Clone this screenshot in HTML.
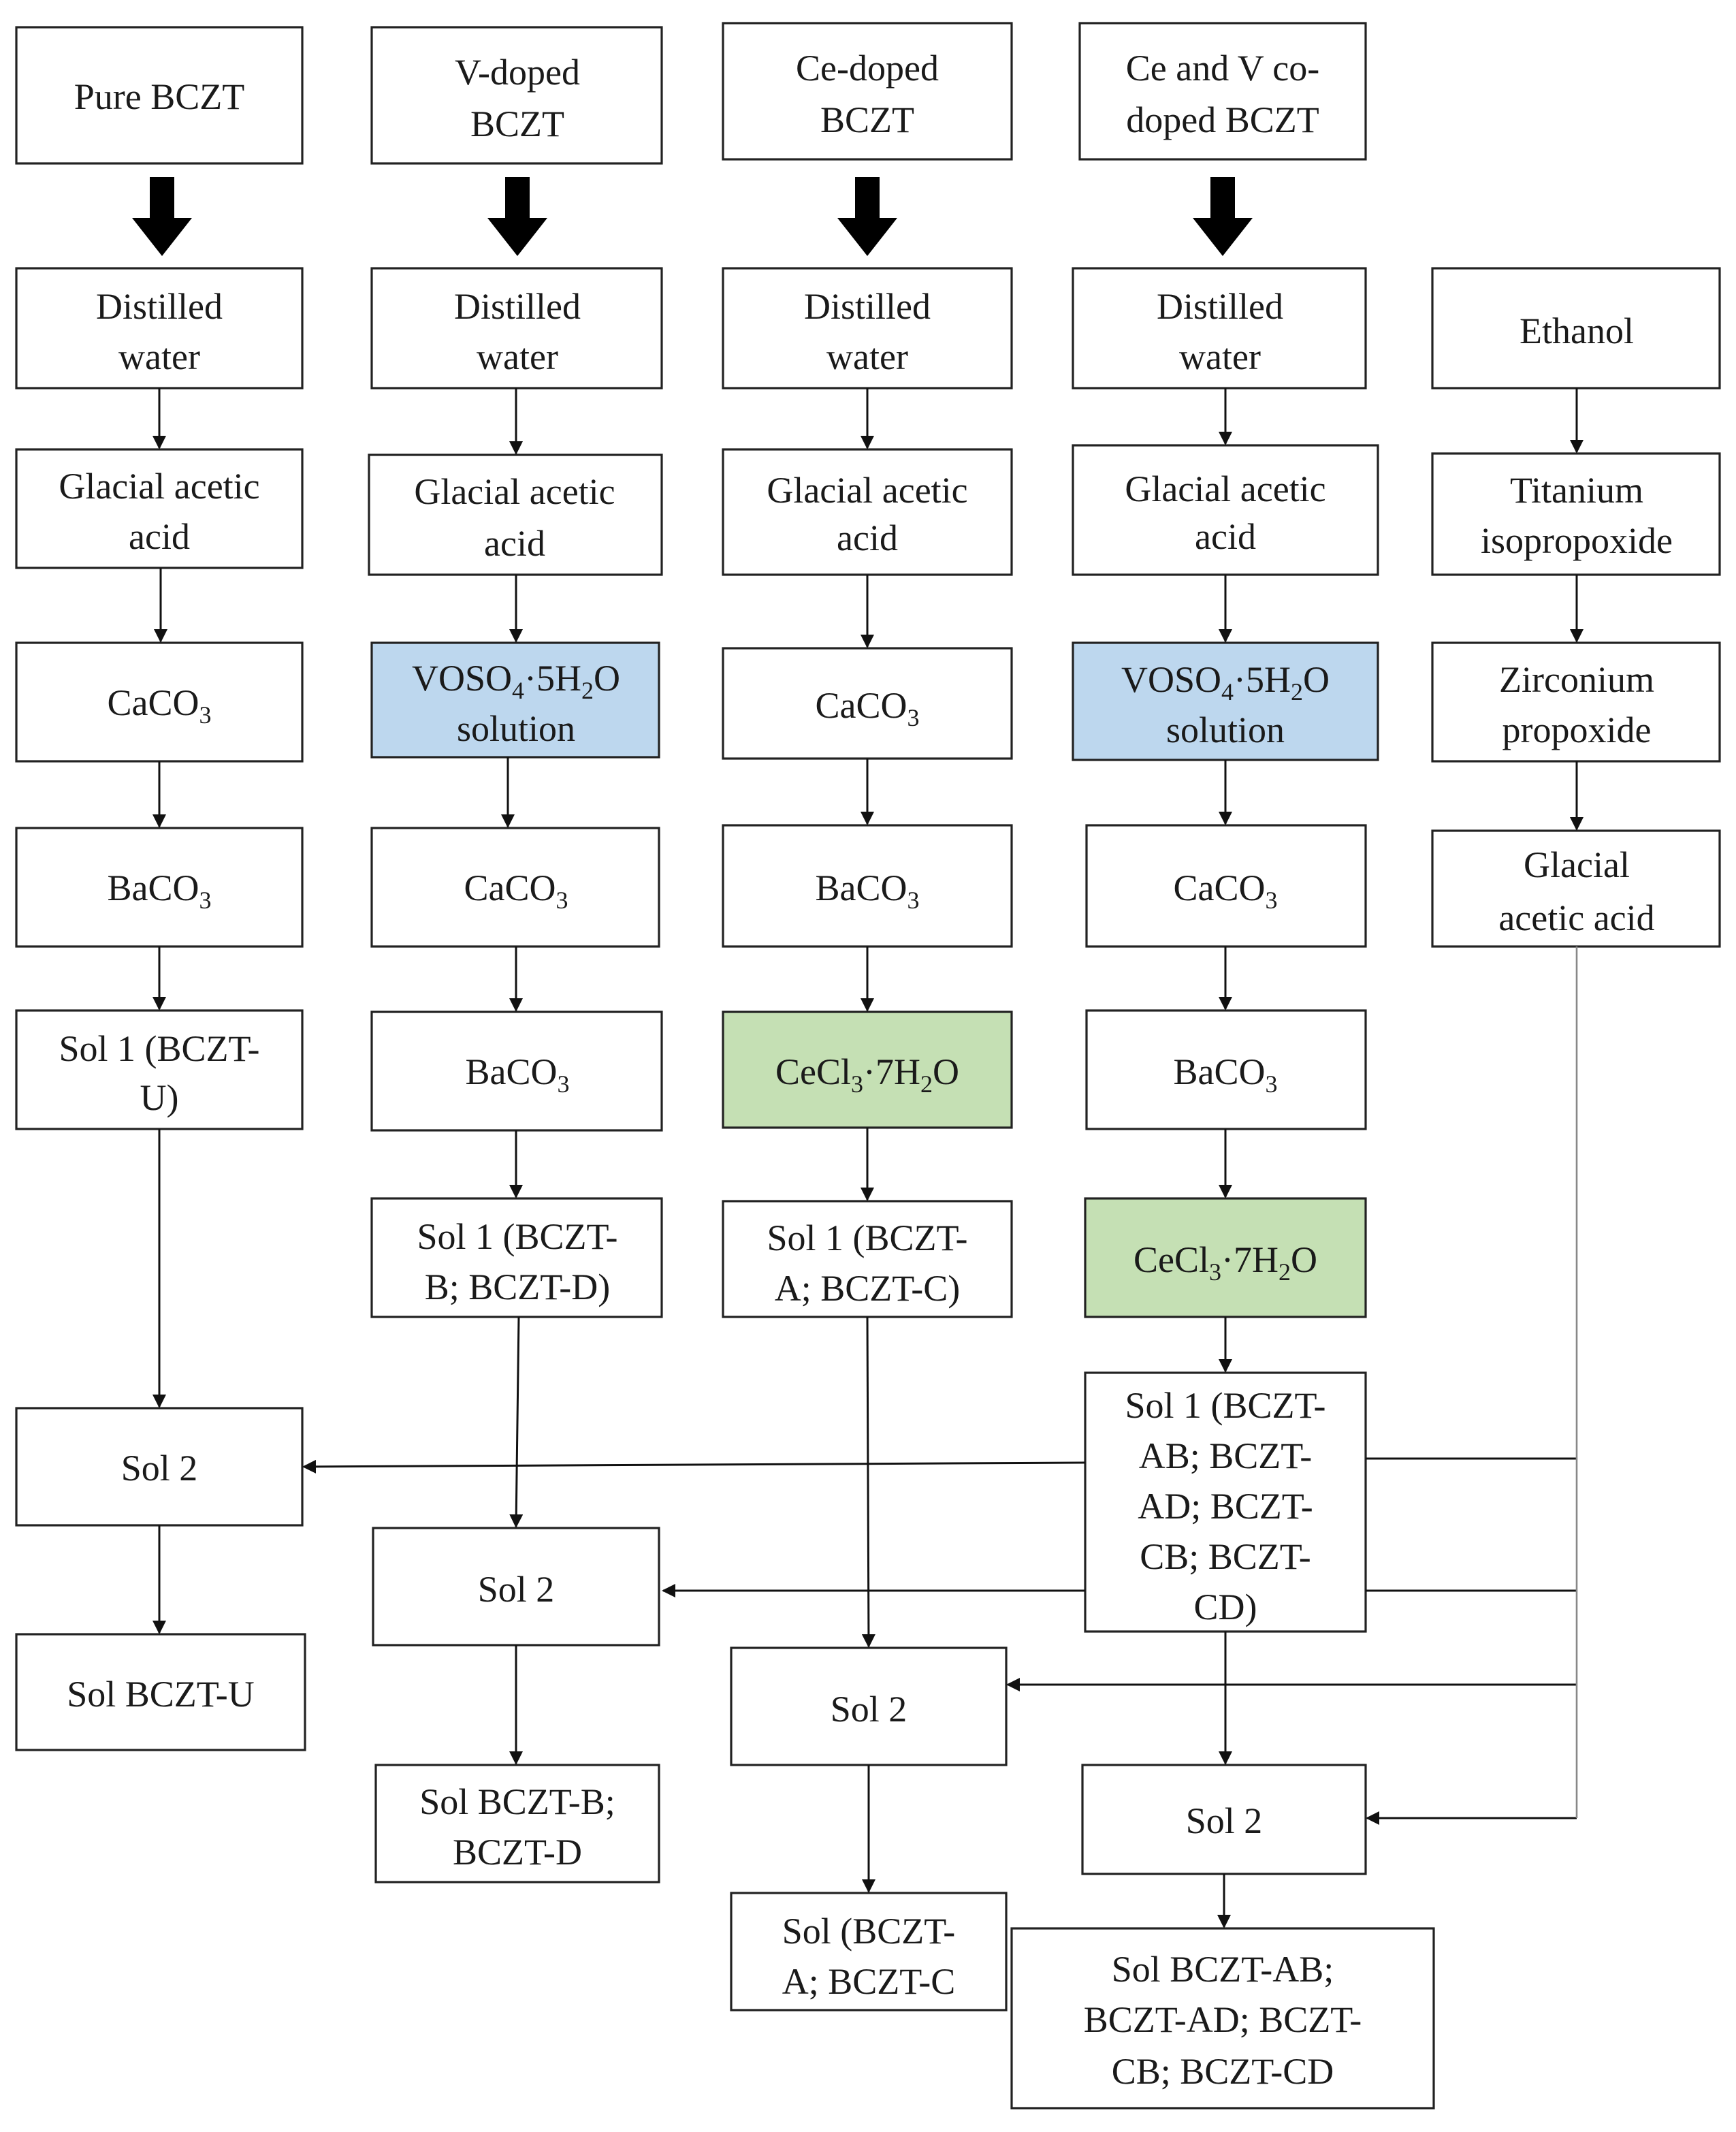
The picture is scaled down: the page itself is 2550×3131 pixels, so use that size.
<!DOCTYPE html>
<html><head><meta charset="utf-8"><style>
html,body{margin:0;padding:0;background:#fff;}
svg{display:block;}
text{font-family:"Liberation Serif",serif;font-size:27px;fill:#1a1a1a;text-anchor:middle;}
rect{stroke:#222;stroke-width:1.6;fill:#fff;}
.l{stroke:#111;stroke-width:1.5;fill:none;}
.g{stroke:#888;stroke-width:1.3;fill:none;}
</style></head><body>
<svg width="2550" height="3131" viewBox="0 0 1275 1565.5" xmlns="http://www.w3.org/2000/svg">
<defs><marker id="a" markerWidth="10" markerHeight="10" refX="9" refY="5" orient="auto" markerUnits="userSpaceOnUse"><path d="M0,0 L10,5 L0,10 z" fill="#111"/></marker></defs>

<!-- Column 1 -->
<rect x="12" y="20" width="210" height="100"/><text x="117" y="80">Pure BCZT</text>
<rect x="12" y="197" width="210" height="88"/><text x="117" y="234">Distilled</text><text x="117" y="271">water</text>
<rect x="12" y="330" width="210" height="87"/><text x="117" y="366">Glacial acetic</text><text x="117" y="403">acid</text>
<rect x="12" y="472" width="210" height="87"/><text x="117" y="525">CaCO<tspan font-size="18" dy="6">3</tspan></text>
<rect x="12" y="608" width="210" height="87"/><text x="117" y="661">BaCO<tspan font-size="18" dy="6">3</tspan></text>
<rect x="12" y="742" width="210" height="87"/><text x="117" y="779">Sol 1 (BCZT-</text><text x="117" y="815">U)</text>
<rect x="12" y="1034" width="210" height="86"/><text x="117" y="1087">Sol 2</text>
<rect x="12" y="1200" width="212" height="85"/><text x="118" y="1253">Sol BCZT-U</text>

<!-- Column 2 -->
<rect x="273" y="20" width="213" height="100"/><text x="380" y="62">V-doped</text><text x="380" y="100">BCZT</text>
<rect x="273" y="197" width="213" height="88"/><text x="380" y="234">Distilled</text><text x="380" y="271">water</text>
<rect x="271" y="334" width="215" height="88"/><text x="378" y="370">Glacial acetic</text><text x="378" y="408">acid</text>
<rect x="273" y="472" width="211" height="84" style="fill:#bdd7ee"/><text x="379" y="507">VOSO<tspan font-size="18" dy="6">4</tspan><tspan dy="-6">·5H</tspan><tspan font-size="18" dy="6">2</tspan><tspan dy="-6">O</tspan></text><text x="379" y="544">solution</text>
<rect x="273" y="608" width="211" height="87"/><text x="379" y="661">CaCO<tspan font-size="18" dy="6">3</tspan></text>
<rect x="273" y="743" width="213" height="87"/><text x="380" y="796">BaCO<tspan font-size="18" dy="6">3</tspan></text>
<rect x="273" y="880" width="213" height="87"/><text x="380" y="917">Sol 1 (BCZT-</text><text x="380" y="954">B; BCZT-D)</text>
<rect x="274" y="1122" width="210" height="86"/><text x="379" y="1176">Sol 2</text>
<rect x="276" y="1296" width="208" height="86"/><text x="380" y="1332">Sol BCZT-B;</text><text x="380" y="1369">BCZT-D</text>

<!-- Column 3 -->
<rect x="531" y="17" width="212" height="100"/><text x="637" y="59">Ce-doped</text><text x="637" y="97">BCZT</text>
<rect x="531" y="197" width="212" height="88"/><text x="637" y="234">Distilled</text><text x="637" y="271">water</text>
<rect x="531" y="330" width="212" height="92"/><text x="637" y="369">Glacial acetic</text><text x="637" y="404">acid</text>
<rect x="531" y="476" width="212" height="81"/><text x="637" y="527">CaCO<tspan font-size="18" dy="6">3</tspan></text>
<rect x="531" y="606" width="212" height="89"/><text x="637" y="661">BaCO<tspan font-size="18" dy="6">3</tspan></text>
<rect x="531" y="743" width="212" height="85" style="fill:#c5e0b4"/><text x="637" y="796">CeCl<tspan font-size="18" dy="6">3</tspan><tspan dy="-6">·7H</tspan><tspan font-size="18" dy="6">2</tspan><tspan dy="-6">O</tspan></text>
<rect x="531" y="882" width="212" height="85"/><text x="637" y="918">Sol 1 (BCZT-</text><text x="637" y="955">A; BCZT-C)</text>
<rect x="537" y="1210" width="202" height="86"/><text x="638" y="1264">Sol 2</text>
<rect x="537" y="1390" width="202" height="86"/><text x="638" y="1427">Sol (BCZT-</text><text x="638" y="1464">A; BCZT-C</text>

<!-- Column 4 -->
<rect x="793" y="17" width="210" height="100"/><text x="898" y="59">Ce and V co-</text><text x="898" y="97">doped BCZT</text>
<rect x="788" y="197" width="215" height="88"/><text x="896" y="234">Distilled</text><text x="896" y="271">water</text>
<rect x="788" y="327" width="224" height="95"/><text x="900" y="368">Glacial acetic</text><text x="900" y="403">acid</text>
<rect x="788" y="472" width="224" height="86" style="fill:#bdd7ee"/><text x="900" y="508">VOSO<tspan font-size="18" dy="6">4</tspan><tspan dy="-6">·5H</tspan><tspan font-size="18" dy="6">2</tspan><tspan dy="-6">O</tspan></text><text x="900" y="545">solution</text>
<rect x="798" y="606" width="205" height="89"/><text x="900" y="661">CaCO<tspan font-size="18" dy="6">3</tspan></text>
<rect x="798" y="742" width="205" height="87"/><text x="900" y="796">BaCO<tspan font-size="18" dy="6">3</tspan></text>
<rect x="797" y="880" width="206" height="87" style="fill:#c5e0b4"/><text x="900" y="934">CeCl<tspan font-size="18" dy="6">3</tspan><tspan dy="-6">·7H</tspan><tspan font-size="18" dy="6">2</tspan><tspan dy="-6">O</tspan></text>
<rect x="797" y="1008" width="206" height="190"/>
<text x="900" y="1041">Sol 1 (BCZT-</text><text x="900" y="1078">AB; BCZT-</text><text x="900" y="1115">AD; BCZT-</text><text x="900" y="1152">CB; BCZT-</text><text x="900" y="1189">CD)</text>
<rect x="795" y="1296" width="208" height="80"/><text x="899" y="1346">Sol 2</text>
<rect x="743" y="1416" width="310" height="132"/><text x="898" y="1455">Sol BCZT-AB;</text><text x="898" y="1492">BCZT-AD; BCZT-</text><text x="898" y="1530">CB; BCZT-CD</text>

<!-- Column 5 -->
<rect x="1052" y="197" width="211" height="88"/><text x="1158" y="252">Ethanol</text>
<rect x="1052" y="333" width="211" height="89"/><text x="1158" y="369">Titanium</text><text x="1158" y="406">isopropoxide</text>
<rect x="1052" y="472" width="211" height="87"/><text x="1158" y="508">Zirconium</text><text x="1158" y="545">propoxide</text>
<rect x="1052" y="610" width="211" height="85"/><text x="1158" y="644">Glacial</text><text x="1158" y="683">acetic acid</text>

<!-- Big arrows -->
<g fill="#000">
<path d="M110,130 h18 v30 h13 l-22,28 l-22,-28 h13 z"/>
<path d="M371,130 h18 v30 h13 l-22,28 l-22,-28 h13 z"/>
<path d="M628,130 h18 v30 h13 l-22,28 l-22,-28 h13 z"/>
<path d="M889,130 h18 v30 h13 l-22,28 l-22,-28 h13 z"/>
</g>

<!-- small arrows -->
<g class="l" marker-end="url(#a)">
<line x1="117" y1="285" x2="117" y2="329"/>
<line x1="118" y1="417" x2="118" y2="471"/>
<line x1="117" y1="559" x2="117" y2="607"/>
<line x1="117" y1="695" x2="117" y2="741"/>
<line x1="117" y1="829" x2="117" y2="1033"/>
<line x1="117" y1="1120" x2="117" y2="1199"/>

<line x1="379" y1="285" x2="379" y2="333"/>
<line x1="379" y1="422" x2="379" y2="471"/>
<line x1="373" y1="556" x2="373" y2="607"/>
<line x1="379" y1="695" x2="379" y2="742"/>
<line x1="379" y1="830" x2="379" y2="879"/>
<line x1="381" y1="967" x2="379" y2="1121"/>
<line x1="379" y1="1208" x2="379" y2="1295"/>

<line x1="637" y1="285" x2="637" y2="329"/>
<line x1="637" y1="422" x2="637" y2="475"/>
<line x1="637" y1="557" x2="637" y2="605"/>
<line x1="637" y1="695" x2="637" y2="742"/>
<line x1="637" y1="828" x2="637" y2="881"/>
<line x1="637" y1="967" x2="638" y2="1209"/>
<line x1="638" y1="1296" x2="638" y2="1389"/>

<line x1="900" y1="285" x2="900" y2="326"/>
<line x1="900" y1="422" x2="900" y2="471"/>
<line x1="900" y1="558" x2="900" y2="605"/>
<line x1="900" y1="695" x2="900" y2="741"/>
<line x1="900" y1="829" x2="900" y2="879"/>
<line x1="900" y1="967" x2="900" y2="1007"/>
<line x1="900" y1="1198" x2="900" y2="1295"/>
<line x1="899" y1="1376" x2="899" y2="1415"/>

<line x1="1158" y1="285" x2="1158" y2="332"/>
<line x1="1158" y1="422" x2="1158" y2="471"/>
<line x1="1158" y1="559" x2="1158" y2="609"/>

<line x1="797" y1="1074" x2="223" y2="1077"/>
<line x1="797" y1="1168" x2="487" y2="1168"/>
<line x1="1158" y1="1237" x2="740" y2="1237"/>
<line x1="1158" y1="1335" x2="1004" y2="1335"/>
</g>
<line class="l" x1="1003" y1="1071" x2="1158" y2="1071"/>
<line class="l" x1="1003" y1="1168" x2="1158" y2="1168"/>
<line class="g" x1="1158" y1="695" x2="1158" y2="1335"/>
</svg>
</body></html>
